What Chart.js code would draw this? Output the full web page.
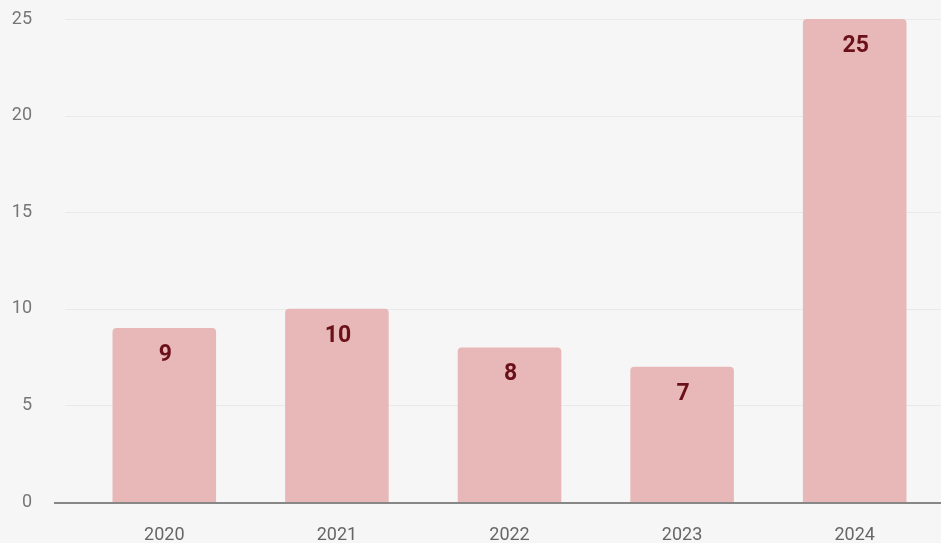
<!DOCTYPE html>
<html>
<head>
<meta charset="utf-8">
<script src="https://cdn.jsdelivr.net/npm/chart.js@4/dist/chart.umd.min.js"></script>
<style>
    html, body { margin: 0; padding: 0; background: #f6f6f6; overflow: hidden; }
</style>
</head>
<body>
<canvas id="myChart" width="941" height="543"></canvas>
<script>
var years = ['2020', '2021', '2022', '2023', '2024'];
var counts = [9, 10, 8, 7, 25];
var yTicks = [0, 5, 10, 15, 20, 25];

// grid lines + baseline, drawn a bit left of the plot like the original
var linesPlugin = {
    id: 'lines',
    beforeDatasetsDraw: function (chart) {
        var ctx = chart.ctx;
        var area = chart.chartArea;
        var y = chart.scales.y;
        ctx.save();
        ctx.strokeStyle = '#e9e9e9';
        ctx.lineWidth = 1;
        yTicks.forEach(function (v) {
            if (v === 0) return;
            var py = Math.round(y.getPixelForValue(v)) + 0.5;
            ctx.beginPath();
            ctx.moveTo(area.left - 13, py);
            ctx.lineTo(area.right, py);
            ctx.stroke();
        });
        ctx.restore();
    },
    afterDatasetsDraw: function (chart) {
        var ctx = chart.ctx;
        var area = chart.chartArea;
        var py = Math.round(chart.scales.y.getPixelForValue(0)) + 1;
        ctx.save();
        ctx.strokeStyle = '#878787';
        ctx.lineWidth = 2;
        ctx.beginPath();
        ctx.moveTo(area.left - 24, py);
        ctx.lineTo(area.right, py);
        ctx.stroke();
        ctx.restore();
    }
};

// value labels inside the top of each bar
var valuePlugin = {
    id: 'values',
    afterDatasetsDraw: function (chart) {
        var ctx = chart.ctx;
        var meta = chart.getDatasetMeta(0);
        ctx.save();
        ctx.font = 'bold 23px Roboto';
        ctx.fillStyle = '#6a1019';
        ctx.textAlign = 'center';
        ctx.textBaseline = 'middle';
        meta.data.forEach(function (bar, i) {
            ctx.fillText(counts[i], bar.x + 1, bar.y + 27);
        });
        ctx.restore();
    }
};

var ctx = document.getElementById('myChart').getContext('2d');
var chart = new Chart(ctx, {
    type: 'bar',
    data: {
        labels: years,
        datasets: [{
            data: counts,
            backgroundColor: '#e8b7b7',
            borderRadius: 4,
            barPercentage: 0.6,
            categoryPercentage: 1
        }]
    },
    options: {
        responsive: false,
        animation: false,
        layout: { padding: { top: 19, right: 0, left: 0, bottom: 0 } },
        plugins: {
            legend: { display: false },
            tooltip: { enabled: false }
        },
        scales: {
            x: {
                grid: { display: false, drawTicks: false },
                border: { display: false },
                ticks: {
                    padding: 23,
                    color: '#666',
                    font: { family: 'Roboto', size: 18 }
                },
                afterFit: function (scale) {
                    scale.height = 41;
                    scale.paddingLeft = 0;
                    scale.paddingRight = 0;
                }
            },
            y: {
                min: 0,
                max: 25,
                grid: { display: false, drawTicks: false },
                border: { display: false },
                ticks: {
                    stepSize: 5,
                    padding: 46,
                    color: '#777',
                    font: { family: 'Roboto', size: 18 }
                },
                afterFit: function (scale) {
                    scale.width = 78;
                    scale.paddingTop = 0;
                    scale.paddingBottom = 0;
                }
            }
        }
    },
    plugins: [linesPlugin, valuePlugin]
});
</script>
</body>
</html>
